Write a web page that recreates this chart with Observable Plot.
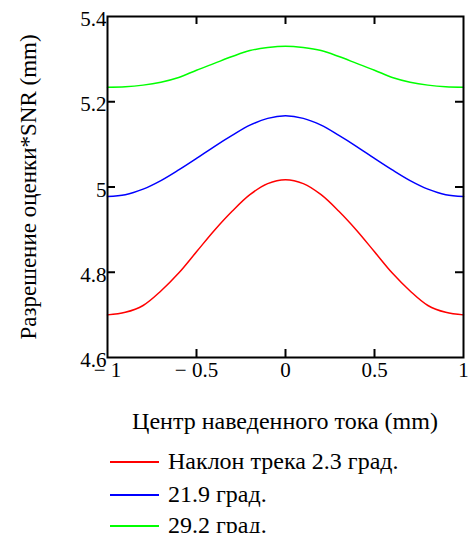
<!DOCTYPE html>
<html>
<head>
<meta charset="utf-8">
<script src="https://cdn.jsdelivr.net/npm/d3@7"></script>
<script src="https://cdn.jsdelivr.net/npm/@observablehq/plot@0.6"></script>
<style>
  body { margin: 0; background: #fff; font-family: "Liberation Serif", "Tinos", "Times New Roman", "DejaVu Serif", serif; }
  #wrap { position: relative; width: 468px; height: 533px; }
  .xt { position: absolute; left: 87px; width: 396px; top: 406px; text-align: center; font-size: 24px; line-height: 30px; color: #000; white-space: nowrap; }
  .leg { position: absolute; left: 110px; height: 28px; font-size: 24px; color: #000; white-space: nowrap; line-height: 28px; padding-left: 58px; }
  .leg span.ln { position: absolute; left: 0; top: 14px; width: 49px; height: 2px; }
</style>
</head>
<body>
<div id="wrap"></div>
<script>
const xs = [-1, -0.9, -0.8, -0.7, -0.6, -0.5, -0.4, -0.3, -0.2, -0.1, 0, 0.1, 0.2, 0.3, 0.4, 0.5, 0.6, 0.7, 0.8, 0.9, 1];
const red   = [4.700, 4.706, 4.722, 4.756, 4.798, 4.848, 4.898, 4.943, 4.982, 5.008, 5.017, 5.008, 4.982, 4.943, 4.898, 4.848, 4.798, 4.756, 4.722, 4.706, 4.700];
const blue  = [4.978, 4.982, 4.995, 5.015, 5.040, 5.067, 5.095, 5.121, 5.145, 5.161, 5.167, 5.161, 5.145, 5.121, 5.095, 5.067, 5.040, 5.015, 4.995, 4.982, 4.978];
const green = [5.234, 5.235, 5.239, 5.246, 5.257, 5.274, 5.290, 5.306, 5.320, 5.327, 5.330, 5.327, 5.320, 5.306, 5.290, 5.274, 5.257, 5.246, 5.239, 5.235, 5.234];
const seriesNames = ["Наклон трека 2.3 град.", "21.9 град.", "29.2 град."];
const seriesColors = ["#ff0000", "#0000ff", "#00ff00"];
const xTicks = [-1, -0.5, 0, 0.5, 1];
const xTickLabels = ["\u2212 1", "\u2212 0.5", "0", "0.5", "1"];
const yTicks = [4.6, 4.8, 5, 5.2, 5.4];
const yTickLabels = ["4.6", "4.8", "5", "5.2", "5.4"];
const innerTicksX = [-0.5, 0, 0.5];
const innerTicksY = [4.8, 5, 5.2];
const xTitle = "Центр наведенного тока (mm)";
const yTitle = "Разрешение оценки*SNR (mm)";

const FONT = '"Liberation Serif", "Tinos", "Times New Roman", "DejaVu Serif", serif';

const rows = [];
[red, blue, green].forEach((arr, s) => arr.forEach((v, i) => rows.push({x: xs[i], y: v, s: seriesNames[s]})));

const W = 468, mL = 107, mR = 5, mT = 16, H = 440, mB = 83;
const pw = W - mL - mR, ph = H - mT - mB;
const tl = 8;

const chart = Plot.plot({
  width: W, height: H,
  marginLeft: mL, marginRight: mR, marginTop: mT, marginBottom: mB,
  style: {fontFamily: FONT, fontSize: "21px", color: "#000", background: "#fff"},
  x: {domain: [-1, 1]},
  y: {domain: [4.6, 5.4]},
  color: {domain: seriesNames, range: seriesColors.slice()},
  marks: [
    Plot.line(rows, {x: "x", y: "y", z: "s", stroke: "s", strokeWidth: 1.5, curve: "catmull-rom"}),
    Plot.tickY(innerTicksY, {y: d => d, stroke: "black", strokeWidth: 2, insetRight: pw - tl}),
    Plot.tickY(innerTicksY, {y: d => d, stroke: "black", strokeWidth: 2, insetLeft: pw - tl}),
    Plot.tickX(innerTicksX, {x: d => d, stroke: "black", strokeWidth: 2, insetTop: ph - tl}),
    Plot.tickX(innerTicksX, {x: d => d, stroke: "black", strokeWidth: 2, insetBottom: ph - tl}),
    Plot.frame({stroke: "black", strokeWidth: 2}),
    Plot.axisX({ticks: xTicks, tickSize: 0, tickPadding: 5, tickFormat: (d, i) => xTickLabels[i], label: null, fontSize: 21}),
    Plot.axisY({ticks: yTicks, tickSize: 0, tickPadding: 1, dy: 3, tickFormat: (d, i) => yTickLabels[i], label: null, fontSize: 21}),
    Plot.text([yTitle], {frameAnchor: "left", text: d => d, rotate: -90, textAnchor: "middle", dx: -79, fontSize: 23})
  ]
});

const wrap = document.getElementById("wrap");
wrap.appendChild(chart);
const xt = document.createElement("div");
xt.className = "xt";
xt.textContent = xTitle;
wrap.appendChild(xt);
const tops = [447, 480, 511];
seriesNames.forEach((n, i) => {
  const d = document.createElement("div");
  d.className = "leg";
  d.style.top = tops[i] + "px";
  const ln = document.createElement("span");
  ln.className = "ln";
  ln.style.backgroundColor = seriesColors[i];
  d.appendChild(ln);
  d.appendChild(document.createTextNode(n));
  wrap.appendChild(d);
});
</script>
</body>
</html>
